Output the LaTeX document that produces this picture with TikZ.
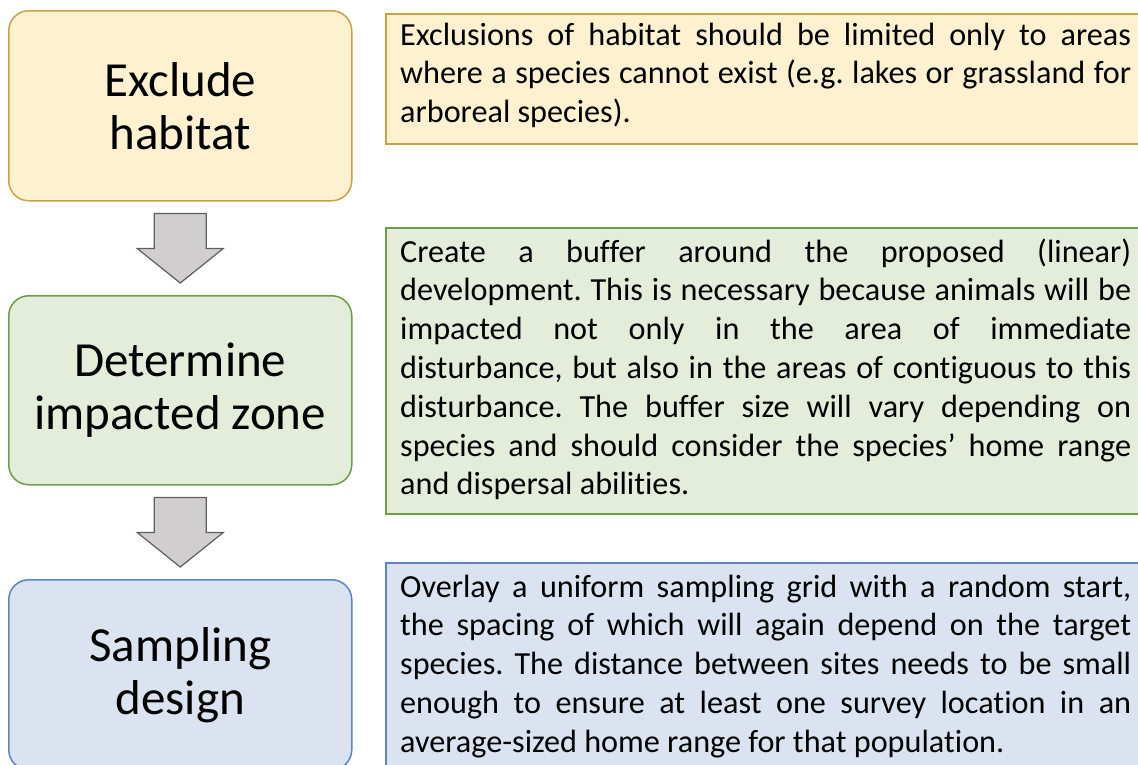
\documentclass[tikz,border=0pt]{standalone}
\usepackage{fontspec}
\setmainfont[Ligatures=NoCommon]{Carlito}
\usetikzlibrary{calc}
\definecolor{yfill}{HTML}{FDF1D0}
\definecolor{yline}{HTML}{C9A245}
\definecolor{gfill}{HTML}{E3EDDA}
\definecolor{gline}{HTML}{6E9C4A}
\definecolor{bfill}{HTML}{DBE3F0}
\definecolor{bline}{HTML}{5A84C4}
\definecolor{afill}{HTML}{D0CECE}
\definecolor{aline}{HTML}{5E5E5E}
\frenchspacing
\newcommand{\rpar}[1]{\parbox[t]{731pt}{\fontsize{32.2}{38.8}\selectfont\hyphenpenalty=10000\exhyphenpenalty=10000 #1}}
\begin{document}
\begin{tikzpicture}[x=1pt,y=-1pt,
  lbox/.style={draw, line width=1.5pt, rounded corners=20pt, minimum width=343pt,
    inner sep=0pt, align=center, font=\fontsize{49}{53}\selectfont, anchor=north west},
  rbox/.style={draw, line width=1.5pt, anchor=north west, minimum width=770pt, inner sep=0pt},
  rtext/.style={anchor=base west, inner sep=0pt},
  blockarrow/.style={fill=afill, draw=aline, line width=1.2pt, line join=miter}]
\useasboundingbox (0,0) rectangle (1138,764);

% left boxes
\node[lbox, fill=yfill, draw=yline, minimum height=190pt] (b1) at (8,10) {Exclude\\habitat};
\node[lbox, fill=gfill, draw=gline, minimum height=189pt] (b2) at (8,295) {Determine\\impacted zone};
\node[lbox, fill=bfill, draw=bline, minimum height=190pt] (b3) at (8,579) {Sampling\\design};

% block arrows
\foreach \u/\l in {b1/b2, b2/b3} {
  \draw[blockarrow]
    ($(\u.south)+(-26,12)$) -- ($(\u.south)+(26,12)$) -- ($(\u.south)+(26,47)$)
    -- ($(\u.south)+(43,47)$) -- ($(\l.north)+(0,-12)$) -- ($(\u.south)+(-43,47)$)
    -- ($(\u.south)+(-26,47)$) -- cycle;
}

% right boxes
\node[rbox, fill=yfill, draw=yline, minimum height=130pt] (r1) at (385,13) {};
\node[rtext] (t1) at ($(r1.north west)+(15,32)$) {\rpar{%
Exclusions of habitat should be limited only to areas\linebreak
where a species cannot exist (e.g. lakes or grassland for\linebreak
arboreal species).}};

\node[rbox, fill=gfill, draw=gline, minimum height=286pt] (r2) at (385,227) {};
\node[rtext] (t2) at ($(r2.north west)+(15,35)$) {\rpar{%
Create a buffer around the proposed (linear)\linebreak
development. This is necessary because animals will be\linebreak
impacted not only in the area of immediate\linebreak
disturbance, but also in the areas of contiguous to this\linebreak
disturbance. The buffer size will vary depending on\linebreak
species and should consider the species’ home range\linebreak
and dispersal abilities.}};

\node[rbox, fill=bfill, draw=bline, minimum height=230pt] (r3) at (385,562) {};
\node[rtext] (t3) at ($(r3.north west)+(15,35)$) {\rpar{%
Overlay a uniform sampling grid with a random start,\linebreak
the spacing of which will again depend on the target\linebreak
species. The distance between sites needs to be small\linebreak
enough to ensure at least one survey location in an\linebreak
average-sized home range for that population.}};
\end{tikzpicture}
\end{document}
